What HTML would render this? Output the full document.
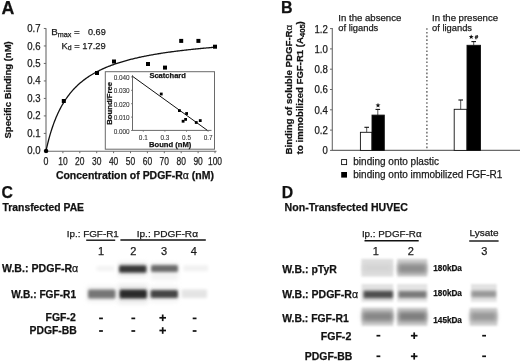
<!DOCTYPE html>
<html><head><meta charset="utf-8"><title>Figure</title>
<style>html,body{margin:0;padding:0;background:#fff;width:520px;height:362px;overflow:hidden}svg{display:block;filter:blur(0.35px)}text{font-family:"Liberation Sans",sans-serif;stroke:#1a1a1a;stroke-width:0.25px}</style>
</head><body>
<svg width="520" height="362" viewBox="0 0 520 362" font-family='"Liberation Sans", sans-serif'><defs><filter id="b10" x="-30%" y="-80%" width="160%" height="260%"><feGaussianBlur stdDeviation="1.0"/></filter><filter id="b14" x="-30%" y="-80%" width="160%" height="260%"><feGaussianBlur stdDeviation="1.4"/></filter><filter id="b15" x="-30%" y="-80%" width="160%" height="260%"><feGaussianBlur stdDeviation="1.5"/></filter><filter id="b16" x="-30%" y="-80%" width="160%" height="260%"><feGaussianBlur stdDeviation="1.6"/></filter><filter id="b18" x="-30%" y="-80%" width="160%" height="260%"><feGaussianBlur stdDeviation="1.8"/></filter><filter id="b20" x="-30%" y="-80%" width="160%" height="260%"><feGaussianBlur stdDeviation="2.0"/></filter></defs><rect width="520" height="362" fill="#fff"/><text x="1.6" y="13.5" font-size="17.8" font-weight="bold" fill="#111">A</text>
<line x1="46" y1="28.3" x2="46" y2="151.4" stroke="#6a6a6a" stroke-width="1.1"/>
<line x1="45.5" y1="151.2" x2="216.5" y2="151.2" stroke="#6a6a6a" stroke-width="1.1"/>
<line x1="43.8" y1="150.9" x2="46" y2="150.9" stroke="#6a6a6a" stroke-width="1"/>
<text x="40.5" y="154.15" font-size="10.5" text-anchor="end" textLength="13.3" lengthAdjust="spacingAndGlyphs" fill="#1a1a1a">0.0</text>
<line x1="43.8" y1="133.41" x2="46" y2="133.41" stroke="#6a6a6a" stroke-width="1"/>
<text x="40.5" y="136.71" font-size="10.5" text-anchor="end" textLength="13.3" lengthAdjust="spacingAndGlyphs" fill="#1a1a1a">0.1</text>
<line x1="43.8" y1="115.92" x2="46" y2="115.92" stroke="#6a6a6a" stroke-width="1"/>
<text x="40.5" y="119.27000000000001" font-size="10.5" text-anchor="end" textLength="13.3" lengthAdjust="spacingAndGlyphs" fill="#1a1a1a">0.2</text>
<line x1="43.8" y1="98.43" x2="46" y2="98.43" stroke="#6a6a6a" stroke-width="1"/>
<text x="40.5" y="101.83" font-size="10.5" text-anchor="end" textLength="13.3" lengthAdjust="spacingAndGlyphs" fill="#1a1a1a">0.3</text>
<line x1="43.8" y1="80.94" x2="46" y2="80.94" stroke="#6a6a6a" stroke-width="1"/>
<text x="40.5" y="84.39" font-size="10.5" text-anchor="end" textLength="13.3" lengthAdjust="spacingAndGlyphs" fill="#1a1a1a">0.4</text>
<line x1="43.8" y1="63.45" x2="46" y2="63.45" stroke="#6a6a6a" stroke-width="1"/>
<text x="40.5" y="66.95" font-size="10.5" text-anchor="end" textLength="13.3" lengthAdjust="spacingAndGlyphs" fill="#1a1a1a">0.5</text>
<line x1="43.8" y1="45.96000000000001" x2="46" y2="45.96000000000001" stroke="#6a6a6a" stroke-width="1"/>
<text x="40.5" y="49.50999999999999" font-size="10.5" text-anchor="end" textLength="13.3" lengthAdjust="spacingAndGlyphs" fill="#1a1a1a">0.6</text>
<line x1="43.8" y1="28.470000000000013" x2="46" y2="28.470000000000013" stroke="#6a6a6a" stroke-width="1"/>
<text x="40.5" y="32.06999999999999" font-size="10.5" text-anchor="end" textLength="13.3" lengthAdjust="spacingAndGlyphs" fill="#1a1a1a">0.7</text>
<line x1="46.0" y1="151.2" x2="46.0" y2="153.2" stroke="#6a6a6a" stroke-width="1"/>
<text x="46.0" y="164.5" font-size="10.3" text-anchor="middle" textLength="4.9" lengthAdjust="spacingAndGlyphs" fill="#1a1a1a">0</text>
<line x1="62.9" y1="151.2" x2="62.9" y2="153.2" stroke="#6a6a6a" stroke-width="1"/>
<text x="62.9" y="164.5" font-size="10.3" text-anchor="middle" textLength="9.4" lengthAdjust="spacingAndGlyphs" fill="#1a1a1a">10</text>
<line x1="79.8" y1="151.2" x2="79.8" y2="153.2" stroke="#6a6a6a" stroke-width="1"/>
<text x="79.8" y="164.5" font-size="10.3" text-anchor="middle" textLength="9.4" lengthAdjust="spacingAndGlyphs" fill="#1a1a1a">20</text>
<line x1="96.69999999999999" y1="151.2" x2="96.69999999999999" y2="153.2" stroke="#6a6a6a" stroke-width="1"/>
<text x="96.69999999999999" y="164.5" font-size="10.3" text-anchor="middle" textLength="9.4" lengthAdjust="spacingAndGlyphs" fill="#1a1a1a">30</text>
<line x1="113.6" y1="151.2" x2="113.6" y2="153.2" stroke="#6a6a6a" stroke-width="1"/>
<text x="113.6" y="164.5" font-size="10.3" text-anchor="middle" textLength="9.4" lengthAdjust="spacingAndGlyphs" fill="#1a1a1a">40</text>
<line x1="130.5" y1="151.2" x2="130.5" y2="153.2" stroke="#6a6a6a" stroke-width="1"/>
<text x="130.5" y="164.5" font-size="10.3" text-anchor="middle" textLength="9.4" lengthAdjust="spacingAndGlyphs" fill="#1a1a1a">50</text>
<line x1="147.39999999999998" y1="151.2" x2="147.39999999999998" y2="153.2" stroke="#6a6a6a" stroke-width="1"/>
<text x="147.39999999999998" y="164.5" font-size="10.3" text-anchor="middle" textLength="9.4" lengthAdjust="spacingAndGlyphs" fill="#1a1a1a">60</text>
<line x1="164.3" y1="151.2" x2="164.3" y2="153.2" stroke="#6a6a6a" stroke-width="1"/>
<text x="164.3" y="164.5" font-size="10.3" text-anchor="middle" textLength="9.4" lengthAdjust="spacingAndGlyphs" fill="#1a1a1a">70</text>
<line x1="181.2" y1="151.2" x2="181.2" y2="153.2" stroke="#6a6a6a" stroke-width="1"/>
<text x="181.2" y="164.5" font-size="10.3" text-anchor="middle" textLength="9.4" lengthAdjust="spacingAndGlyphs" fill="#1a1a1a">80</text>
<line x1="198.1" y1="151.2" x2="198.1" y2="153.2" stroke="#6a6a6a" stroke-width="1"/>
<text x="198.1" y="164.5" font-size="10.3" text-anchor="middle" textLength="9.4" lengthAdjust="spacingAndGlyphs" fill="#1a1a1a">90</text>
<line x1="215.0" y1="151.2" x2="215.0" y2="153.2" stroke="#6a6a6a" stroke-width="1"/>
<text x="215.0" y="164.5" font-size="10.3" text-anchor="middle" textLength="14.1" lengthAdjust="spacingAndGlyphs" fill="#1a1a1a">100</text>
<text x="55.9" y="178.6" font-size="10.4" font-weight="bold" textLength="158" lengthAdjust="spacingAndGlyphs" fill="#111">Concentration of PDGF-R<tspan font-weight="normal">α</tspan> (nM)</text>
<text x="11.4" y="138.5" font-size="9.6" font-weight="bold" textLength="97.3" lengthAdjust="spacingAndGlyphs" transform="rotate(-90 11.4 138.5)" fill="#111">Specific Binding (nM)</text>
<text x="51.2" y="34.9" font-size="9.8" fill="#1a1a1a">B<tspan font-size="7.2" dy="1.6">max</tspan><tspan dy="-1.6"> =</tspan></text>
<text x="105.8" y="34.9" font-size="9.8" text-anchor="end" textLength="17.8" lengthAdjust="spacingAndGlyphs" fill="#1a1a1a">0.69</text>
<text x="61.6" y="48.7" font-size="9.8" textLength="44.2" lengthAdjust="spacingAndGlyphs" fill="#1a1a1a">K<tspan font-size="7.2" dy="1.6">d</tspan><tspan dy="-1.6"> = 17.29</tspan></text>
<polyline points="46.00,150.90 46.84,147.14 47.69,143.61 48.53,140.28 49.38,137.15 50.23,134.19 51.07,131.39 51.91,128.75 52.76,126.23 53.60,123.85 54.45,121.58 55.30,119.42 56.14,117.36 56.98,115.39 57.83,113.52 58.67,111.72 59.52,110.00 60.37,108.35 61.21,106.77 62.05,105.26 62.90,103.80 63.75,102.40 64.59,101.05 65.44,99.76 66.28,98.51 67.12,97.30 67.97,96.14 68.81,95.02 69.66,93.93 70.50,92.88 71.35,91.87 72.19,90.89 73.04,89.94 73.88,89.02 74.73,88.13 75.58,87.27 76.42,86.43 77.27,85.61 78.11,84.82 78.95,84.06 79.80,83.31 80.64,82.59 81.49,81.88 82.34,81.20 83.18,80.53 84.03,79.88 84.87,79.25 85.72,78.63 86.56,78.03 87.41,77.44 88.25,76.87 89.09,76.31 89.94,75.77 90.78,75.24 91.63,74.72 92.47,74.21 93.32,73.72 94.16,73.23 95.01,72.76 95.85,72.30 96.70,71.85 97.55,71.41 98.39,70.97 99.23,70.55 100.08,70.14 100.92,69.73 101.77,69.33 102.61,68.94 103.46,68.56 104.31,68.19 105.15,67.82 106.00,67.46 106.84,67.11 107.69,66.77 108.53,66.43 109.38,66.09 110.22,65.77 111.06,65.45 111.91,65.13 112.75,64.83 113.60,64.52 114.44,64.23 115.29,63.93 116.13,63.65 116.98,63.36 117.83,63.09 118.67,62.82 119.52,62.55 120.36,62.28 121.20,62.03 122.05,61.77 122.89,61.52 123.74,61.27 124.58,61.03 125.43,60.79 126.27,60.56 127.12,60.33 127.97,60.10 128.81,59.88 129.66,59.66 130.50,59.44 131.34,59.22 132.19,59.01 133.03,58.81 133.88,58.60 134.72,58.40 135.57,58.20 136.41,58.01 137.26,57.81 138.11,57.63 138.95,57.44 139.80,57.25 140.64,57.07 141.49,56.89 142.33,56.71 143.18,56.54 144.02,56.37 144.87,56.20 145.71,56.03 146.56,55.87 147.40,55.70 148.25,55.54 149.09,55.38 149.94,55.23 150.78,55.07 151.62,54.92 152.47,54.77 153.31,54.62 154.16,54.47 155.00,54.33 155.85,54.18 156.69,54.04 157.54,53.90 158.38,53.76 159.23,53.63 160.07,53.49 160.92,53.36 161.76,53.23 162.61,53.10 163.45,52.97 164.30,52.84 165.14,52.72 165.99,52.59 166.83,52.47 167.68,52.35 168.52,52.23 169.37,52.11 170.21,51.99 171.06,51.88 171.91,51.76 172.75,51.65 173.59,51.54 174.44,51.43 175.28,51.32 176.13,51.21 176.97,51.10 177.82,50.99 178.66,50.89 179.51,50.78 180.35,50.68 181.20,50.58 182.04,50.48 182.89,50.38 183.73,50.28 184.58,50.18 185.42,50.09 186.27,49.99 187.12,49.90 187.96,49.80 188.81,49.71 189.65,49.62 190.50,49.53 191.34,49.44 192.19,49.35 193.03,49.26 193.88,49.17 194.72,49.09 195.56,49.00 196.41,48.92 197.25,48.83 198.10,48.75 198.94,48.67 199.79,48.58 200.63,48.50 201.48,48.42 202.32,48.34 203.17,48.26 204.01,48.19 204.86,48.11 205.70,48.03 206.55,47.96 207.39,47.88 208.24,47.81 209.09,47.73 209.93,47.66 210.78,47.59 211.62,47.51 212.47,47.44 213.31,47.37 214.16,47.30 215.00,47.23" fill="none" stroke="#111" stroke-width="1.3"/>
<rect x="105.3" y="71.7" width="109.2" height="77.5" fill="#fff" stroke="#6a6a6a" stroke-width="1"/>
<rect x="61.8" y="99" width="4" height="4" fill="#000" stroke="none" stroke-width="1"/>
<rect x="95" y="71" width="4" height="4" fill="#000" stroke="none" stroke-width="1"/>
<rect x="112" y="59.5" width="4" height="4" fill="#000" stroke="none" stroke-width="1"/>
<rect x="146" y="62" width="4" height="4" fill="#000" stroke="none" stroke-width="1"/>
<rect x="163" y="65.6" width="4" height="4" fill="#000" stroke="none" stroke-width="1"/>
<rect x="179.2" y="38.9" width="4" height="4" fill="#000" stroke="none" stroke-width="1"/>
<rect x="196.4" y="38.9" width="4" height="4" fill="#000" stroke="none" stroke-width="1"/>
<rect x="213" y="44.7" width="4" height="4" fill="#000" stroke="none" stroke-width="1"/>
<circle cx="46.1" cy="150.9" r="2.2" fill="#000"/>
<line x1="132.5" y1="75.2" x2="132.5" y2="130.6" stroke="#6a6a6a" stroke-width="1"/>
<line x1="132.2" y1="130.4" x2="211.5" y2="130.4" stroke="#6a6a6a" stroke-width="1"/>
<line x1="131" y1="130.5" x2="132.5" y2="130.5" stroke="#6a6a6a" stroke-width="0.8"/>
<text x="129.7" y="133.7" font-size="7.0" text-anchor="end" textLength="16" lengthAdjust="spacingAndGlyphs" fill="#3a3a3a" style="stroke-width:0.1px">0.000</text>
<line x1="131" y1="117.1" x2="132.5" y2="117.1" stroke="#6a6a6a" stroke-width="0.8"/>
<text x="129.7" y="120.17999999999999" font-size="7.0" text-anchor="end" textLength="16" lengthAdjust="spacingAndGlyphs" fill="#3a3a3a" style="stroke-width:0.1px">0.010</text>
<line x1="131" y1="103.7" x2="132.5" y2="103.7" stroke="#6a6a6a" stroke-width="0.8"/>
<text x="129.7" y="106.66" font-size="7.0" text-anchor="end" textLength="16" lengthAdjust="spacingAndGlyphs" fill="#3a3a3a" style="stroke-width:0.1px">0.020</text>
<line x1="131" y1="90.3" x2="132.5" y2="90.3" stroke="#6a6a6a" stroke-width="0.8"/>
<text x="129.7" y="93.13999999999999" font-size="7.0" text-anchor="end" textLength="16" lengthAdjust="spacingAndGlyphs" fill="#3a3a3a" style="stroke-width:0.1px">0.030</text>
<line x1="131" y1="76.9" x2="132.5" y2="76.9" stroke="#6a6a6a" stroke-width="0.8"/>
<text x="129.7" y="79.61999999999999" font-size="7.0" text-anchor="end" textLength="16" lengthAdjust="spacingAndGlyphs" fill="#3a3a3a" style="stroke-width:0.1px">0.040</text>
<line x1="143.3" y1="130.4" x2="143.3" y2="131.8" stroke="#6a6a6a" stroke-width="0.8"/>
<text x="143.3" y="140.3" font-size="7.0" text-anchor="middle" textLength="8.9" lengthAdjust="spacingAndGlyphs" fill="#3a3a3a" style="stroke-width:0.1px">0.1</text>
<line x1="164.9" y1="130.4" x2="164.9" y2="131.8" stroke="#6a6a6a" stroke-width="0.8"/>
<text x="164.9" y="140.3" font-size="7.0" text-anchor="middle" textLength="8.9" lengthAdjust="spacingAndGlyphs" fill="#3a3a3a" style="stroke-width:0.1px">0.3</text>
<line x1="186.5" y1="130.4" x2="186.5" y2="131.8" stroke="#6a6a6a" stroke-width="0.8"/>
<text x="186.5" y="140.3" font-size="7.0" text-anchor="middle" textLength="8.9" lengthAdjust="spacingAndGlyphs" fill="#3a3a3a" style="stroke-width:0.1px">0.5</text>
<line x1="208.1" y1="130.4" x2="208.1" y2="131.8" stroke="#6a6a6a" stroke-width="0.8"/>
<text x="208.1" y="140.3" font-size="7.0" text-anchor="middle" textLength="8.9" lengthAdjust="spacingAndGlyphs" fill="#3a3a3a" style="stroke-width:0.1px">0.7</text>
<text x="149.4" y="77.8" font-size="7.3" font-weight="bold" textLength="36.5" lengthAdjust="spacingAndGlyphs" fill="#111">Scatchard</text>
<text x="149" y="147" font-size="7.3" font-weight="bold" textLength="42.3" lengthAdjust="spacingAndGlyphs" fill="#111">Bound (nM)</text>
<text x="112.3" y="124.8" font-size="7.5" font-weight="bold" textLength="42.8" lengthAdjust="spacingAndGlyphs" transform="rotate(-90 112.3 124.8)" fill="#111">Bound/Free</text>
<line x1="132.5" y1="76.3" x2="207.3" y2="130.3" stroke="#111" stroke-width="1"/>
<rect x="159.85" y="92.6" width="2.8" height="2.8" fill="#000" stroke="none" stroke-width="1"/>
<rect x="178.0" y="109.19999999999999" width="2.8" height="2.8" fill="#000" stroke="none" stroke-width="1"/>
<rect x="185.2" y="112.1" width="2.8" height="2.8" fill="#000" stroke="none" stroke-width="1"/>
<rect x="184.2" y="118.0" width="2.8" height="2.8" fill="#000" stroke="none" stroke-width="1"/>
<rect x="181.7" y="119.85" width="2.8" height="2.8" fill="#000" stroke="none" stroke-width="1"/>
<rect x="194.85" y="121.1" width="2.8" height="2.8" fill="#000" stroke="none" stroke-width="1"/>
<rect x="198.85" y="119.19999999999999" width="2.8" height="2.8" fill="#000" stroke="none" stroke-width="1"/>
<text x="280.9" y="12.9" font-size="16" font-weight="bold" fill="#111">B</text>
<line x1="332.3" y1="28.1" x2="332.3" y2="150.8" stroke="#6a6a6a" stroke-width="1.1"/>
<line x1="331.8" y1="150.4" x2="520" y2="150.4" stroke="#6a6a6a" stroke-width="1.1"/>
<line x1="330" y1="150.4" x2="332.3" y2="150.4" stroke="#6a6a6a" stroke-width="1"/>
<text x="327.9" y="154.3" font-size="10.4" text-anchor="end" textLength="5.3" lengthAdjust="spacingAndGlyphs" fill="#1a1a1a">0</text>
<line x1="330" y1="130.1" x2="332.3" y2="130.1" stroke="#6a6a6a" stroke-width="1"/>
<text x="327.9" y="134.0" font-size="10.4" text-anchor="end" textLength="13.4" lengthAdjust="spacingAndGlyphs" fill="#1a1a1a">0.2</text>
<line x1="330" y1="109.80000000000001" x2="332.3" y2="109.80000000000001" stroke="#6a6a6a" stroke-width="1"/>
<text x="327.9" y="113.70000000000002" font-size="10.4" text-anchor="end" textLength="13.4" lengthAdjust="spacingAndGlyphs" fill="#1a1a1a">0.4</text>
<line x1="330" y1="89.5" x2="332.3" y2="89.5" stroke="#6a6a6a" stroke-width="1"/>
<text x="327.9" y="93.4" font-size="10.4" text-anchor="end" textLength="13.4" lengthAdjust="spacingAndGlyphs" fill="#1a1a1a">0.6</text>
<line x1="330" y1="69.2" x2="332.3" y2="69.2" stroke="#6a6a6a" stroke-width="1"/>
<text x="327.9" y="73.10000000000001" font-size="10.4" text-anchor="end" textLength="13.4" lengthAdjust="spacingAndGlyphs" fill="#1a1a1a">0.8</text>
<line x1="330" y1="48.900000000000006" x2="332.3" y2="48.900000000000006" stroke="#6a6a6a" stroke-width="1"/>
<text x="327.9" y="52.800000000000004" font-size="10.4" text-anchor="end" textLength="13.4" lengthAdjust="spacingAndGlyphs" fill="#1a1a1a">1.0</text>
<line x1="330" y1="28.599999999999994" x2="332.3" y2="28.599999999999994" stroke="#6a6a6a" stroke-width="1"/>
<text x="327.9" y="32.49999999999999" font-size="10.4" text-anchor="end" textLength="13.4" lengthAdjust="spacingAndGlyphs" fill="#1a1a1a">1.2</text>
<line x1="426.9" y1="28.2" x2="426.9" y2="150" stroke="#555" stroke-width="1.3" stroke-dasharray="1.6 2.1"/>
<line x1="366.7" y1="127.3" x2="366.7" y2="132.3" stroke="#444" stroke-width="0.9"/>
<line x1="364.4" y1="127.3" x2="369.0" y2="127.3" stroke="#111" stroke-width="1.1"/>
<rect x="360.4" y="132.3" width="11.600000000000023" height="18.099999999999994" fill="#fff" stroke="#111" stroke-width="0.9"/>
<line x1="377.8" y1="109.4" x2="377.8" y2="115.1" stroke="#444" stroke-width="0.9"/>
<line x1="375.5" y1="109.4" x2="380.1" y2="109.4" stroke="#111" stroke-width="1.1"/>
<rect x="372" y="115.1" width="12.300000000000011" height="35.30000000000001" fill="#000" stroke="#111" stroke-width="0.9"/>
<line x1="460.7" y1="100" x2="460.7" y2="109.3" stroke="#444" stroke-width="0.9"/>
<line x1="458.4" y1="100" x2="463.0" y2="100" stroke="#111" stroke-width="1.1"/>
<rect x="454.2" y="109.3" width="12.800000000000011" height="41.10000000000001" fill="#fff" stroke="#111" stroke-width="0.9"/>
<line x1="473.7" y1="41.6" x2="473.7" y2="45.3" stroke="#444" stroke-width="0.9"/>
<line x1="471.4" y1="41.6" x2="476.0" y2="41.6" stroke="#111" stroke-width="1.1"/>
<rect x="467" y="45.3" width="13.5" height="105.10000000000001" fill="#000" stroke="#111" stroke-width="0.9"/>
<polygon points="378.00,102.80 378.64,104.52 380.47,104.60 379.04,105.74 379.53,107.50 378.00,106.49 376.47,107.50 376.96,105.74 375.53,104.60 377.36,104.52" fill="#111"/>
<polygon points="471.20,34.40 471.84,36.12 473.67,36.20 472.24,37.34 472.73,39.10 471.20,38.09 469.67,39.10 470.16,37.34 468.73,36.20 470.56,36.12" fill="#111"/>
<text x="476.4" y="38.9" font-size="6.2" font-weight="bold" text-anchor="middle" fill="#111">#</text>
<text x="338.3" y="21.4" font-size="9.5" textLength="63" lengthAdjust="spacingAndGlyphs" fill="#1a1a1a">In the absence</text>
<text x="338.3" y="30.9" font-size="9.5" textLength="40" lengthAdjust="spacingAndGlyphs" fill="#1a1a1a">of ligands</text>
<text x="432" y="21.4" font-size="9.5" textLength="66" lengthAdjust="spacingAndGlyphs" fill="#1a1a1a">In the presence</text>
<text x="432" y="30.9" font-size="9.5" textLength="40" lengthAdjust="spacingAndGlyphs" fill="#1a1a1a">of ligands</text>
<text x="291.5" y="154.5" font-size="9.6" font-weight="bold" textLength="129.7" lengthAdjust="spacingAndGlyphs" transform="rotate(-90 291.5 154.5)" fill="#111">Binding of soluble PDGF-R<tspan font-weight="normal">α</tspan></text>
<text x="303.0" y="154.2" font-size="9.6" font-weight="bold" textLength="133" lengthAdjust="spacingAndGlyphs" transform="rotate(-90 303.0 154.2)" fill="#111">to immobilized FGF-R1 (A<tspan font-size="7.6" dy="1.6">405</tspan><tspan dy="-1.6">)</tspan></text>
<rect x="341.6" y="159.6" width="5" height="5" fill="#fff" stroke="#111" stroke-width="0.9"/>
<rect x="341.2" y="172" width="5.8" height="5.6" fill="#000" stroke="none" stroke-width="1"/>
<text x="353.3" y="164.8" font-size="10" fill="#1a1a1a">binding onto plastic</text>
<text x="353.3" y="177.9" font-size="10" textLength="149" lengthAdjust="spacingAndGlyphs" fill="#1a1a1a">binding onto immobilized FGF-R1</text>
<text x="1.6" y="197.8" font-size="15.8" font-weight="bold" fill="#111">C</text>
<text x="2.6" y="211" font-size="10" font-weight="bold" textLength="81.4" lengthAdjust="spacingAndGlyphs" fill="#111">Transfected PAE</text>
<text x="66.7" y="237.4" font-size="9.4" textLength="52.1" lengthAdjust="spacingAndGlyphs" fill="#1a1a1a">Ip.: FGF-R1</text>
<line x1="86.2" y1="240.2" x2="115.2" y2="240.2" stroke="#111" stroke-width="1.4"/>
<text x="136.7" y="236.6" font-size="9.4" textLength="61.3" lengthAdjust="spacingAndGlyphs" fill="#1a1a1a">Ip.: PDGF-Rα</text>
<line x1="120.4" y1="240" x2="205.8" y2="240" stroke="#111" stroke-width="1.4"/>
<text x="101" y="254.6" font-size="11" text-anchor="middle" fill="#1a1a1a">1</text>
<text x="133.3" y="254.6" font-size="11" text-anchor="middle" fill="#1a1a1a">2</text>
<text x="164" y="254.6" font-size="11" text-anchor="middle" fill="#1a1a1a">3</text>
<text x="193.8" y="254.6" font-size="11" text-anchor="middle" fill="#1a1a1a">4</text>
<text x="78.2" y="271.5" font-size="10.2" font-weight="bold" text-anchor="end" textLength="76.2" lengthAdjust="spacingAndGlyphs" fill="#111">W.B.: PDGF-R<tspan font-weight="normal">α</tspan></text>
<text x="76.1" y="298.1" font-size="10.2" font-weight="bold" text-anchor="end" textLength="64.9" lengthAdjust="spacingAndGlyphs" fill="#111">W.B.: FGF-R1</text>
<text x="75.7" y="320.9" font-size="10.2" font-weight="bold" text-anchor="end" textLength="30.1" lengthAdjust="spacingAndGlyphs" fill="#111">FGF-2</text>
<text x="76.7" y="333.5" font-size="10.2" font-weight="bold" text-anchor="end" textLength="47.2" lengthAdjust="spacingAndGlyphs" fill="#111">PDGF-BB</text>
<rect x="99.1" y="317.54999999999995" width="3.8" height="1.7" fill="#111" stroke="none" stroke-width="1"/>
<rect x="99.1" y="330.15" width="3.8" height="1.7" fill="#111" stroke="none" stroke-width="1"/>
<rect x="131.4" y="317.54999999999995" width="3.8" height="1.7" fill="#111" stroke="none" stroke-width="1"/>
<rect x="131.4" y="330.15" width="3.8" height="1.7" fill="#111" stroke="none" stroke-width="1"/>
<rect x="159.39999999999998" y="316.95" width="6.6" height="1.7" fill="#111" stroke="none" stroke-width="1"/>
<rect x="161.85" y="314.5" width="1.7" height="6.6" fill="#111" stroke="none" stroke-width="1"/>
<rect x="159.39999999999998" y="329.65" width="6.6" height="1.7" fill="#111" stroke="none" stroke-width="1"/>
<rect x="161.85" y="327.2" width="1.7" height="6.6" fill="#111" stroke="none" stroke-width="1"/>
<rect x="192.7" y="317.54999999999995" width="3.8" height="1.7" fill="#111" stroke="none" stroke-width="1"/>
<rect x="192.7" y="330.15" width="3.8" height="1.7" fill="#111" stroke="none" stroke-width="1"/>
<rect x="118" y="284" width="29.5" height="20" fill="#ececec" filter="url(#b20)"/>
<rect x="150" y="286" width="28" height="16" fill="#f2f2f2" filter="url(#b20)"/>
<rect x="87" y="286" width="28.5" height="16" fill="#f2f2f2" filter="url(#b20)"/>
<rect x="118.5" y="262" width="28.0" height="15" fill="#eeeeee" filter="url(#b20)"/>
<rect x="151" y="263" width="27" height="17" fill="#f2f2f2" filter="url(#b20)"/>
<rect x="96.5" y="266.0" width="17.5" height="5" rx="1" fill="#f3f3f3" opacity="1.0" filter="url(#b14)"/>
<rect x="119" y="265.25" width="27.5" height="7.5" rx="1.5" fill="#383838" opacity="1.0" filter="url(#b14)"/>
<rect x="151" y="265.1" width="27" height="7" rx="1.5" fill="#6c6c6c" opacity="1.0" filter="url(#b14)"/>
<rect x="183.5" y="265.2" width="24.5" height="6" rx="1" fill="#f1f1f1" opacity="1.0" filter="url(#b14)"/>
<rect x="88" y="289.5" width="27.5" height="9" rx="1.5" fill="#767676" opacity="1.0" filter="url(#b18)"/>
<rect x="119.5" y="289.6" width="27.5" height="9" rx="1.5" fill="#2c2c2c" opacity="1.0" filter="url(#b15)"/>
<rect x="150.5" y="290.0" width="27.5" height="8" rx="1.5" fill="#444444" opacity="1.0" filter="url(#b15)"/>
<rect x="181.5" y="289.55" width="25.5" height="8.5" rx="1" fill="#e4e4e4" opacity="1.0" filter="url(#b15)"/>
<text x="281.8" y="197.6" font-size="15.8" font-weight="bold" fill="#111">D</text>
<text x="284.6" y="210.8" font-size="10" font-weight="bold" textLength="123.3" lengthAdjust="spacingAndGlyphs" fill="#111">Non-Transfected HUVEC</text>
<text x="361.9" y="237.3" font-size="9.4" textLength="59.7" lengthAdjust="spacingAndGlyphs" fill="#1a1a1a">Ip.: PDGF-Rα</text>
<line x1="364.5" y1="240.8" x2="418.7" y2="240.8" stroke="#111" stroke-width="1.4"/>
<text x="469.5" y="235.6" font-size="9.4" textLength="29.1" lengthAdjust="spacingAndGlyphs" fill="#1a1a1a">Lysate</text>
<line x1="469.2" y1="241" x2="498.6" y2="241" stroke="#111" stroke-width="1.4"/>
<text x="375.8" y="254.6" font-size="11" text-anchor="middle" fill="#1a1a1a">1</text>
<text x="410.7" y="254.6" font-size="11" text-anchor="middle" fill="#1a1a1a">2</text>
<text x="484.2" y="254.6" font-size="11" text-anchor="middle" fill="#1a1a1a">3</text>
<text x="282.3" y="272.6" font-size="10.2" font-weight="bold" textLength="54.5" lengthAdjust="spacingAndGlyphs" fill="#111">W.B.: pTyR</text>
<text x="282.3" y="297.5" font-size="10.2" font-weight="bold" textLength="75.7" lengthAdjust="spacingAndGlyphs" fill="#111">W.B.: PDGF-R<tspan font-weight="normal">α</tspan></text>
<text x="282.3" y="322" font-size="10.2" font-weight="bold" textLength="66.4" lengthAdjust="spacingAndGlyphs" fill="#111">W.B.: FGF-R1</text>
<text x="433.3" y="271.1" font-size="8.2" font-weight="bold" textLength="28.6" lengthAdjust="spacingAndGlyphs" fill="#111">180kDa</text>
<text x="433.3" y="296.3" font-size="8.2" font-weight="bold" textLength="28.6" lengthAdjust="spacingAndGlyphs" fill="#111">180kDa</text>
<text x="433.3" y="322.5" font-size="8.2" font-weight="bold" textLength="28.6" lengthAdjust="spacingAndGlyphs" fill="#111">145kDa</text>
<text x="351.3" y="339.8" font-size="10.2" font-weight="bold" text-anchor="end" textLength="30.6" lengthAdjust="spacingAndGlyphs" fill="#111">FGF-2</text>
<text x="352.4" y="359.9" font-size="10.2" font-weight="bold" text-anchor="end" textLength="47.6" lengthAdjust="spacingAndGlyphs" fill="#111">PDGF-BB</text>
<rect x="376.5" y="334.84999999999997" width="3.8" height="1.7" fill="#111" stroke="none" stroke-width="1"/>
<rect x="376.5" y="355.45" width="3.8" height="1.7" fill="#111" stroke="none" stroke-width="1"/>
<rect x="410.9" y="334.84999999999997" width="6.6" height="1.7" fill="#111" stroke="none" stroke-width="1"/>
<rect x="413.34999999999997" y="332.4" width="1.7" height="6.6" fill="#111" stroke="none" stroke-width="1"/>
<rect x="410.9" y="355.45" width="6.6" height="1.7" fill="#111" stroke="none" stroke-width="1"/>
<rect x="413.34999999999997" y="353.0" width="1.7" height="6.6" fill="#111" stroke="none" stroke-width="1"/>
<rect x="482.20000000000005" y="334.84999999999997" width="3.8" height="1.7" fill="#111" stroke="none" stroke-width="1"/>
<rect x="482.20000000000005" y="355.45" width="3.8" height="1.7" fill="#111" stroke="none" stroke-width="1"/>
<rect x="361.4" y="258.9" width="31.80000000000001" height="17.700000000000045" fill="#dedede" filter="url(#b10)"/>
<rect x="363" y="264.0" width="29" height="8" rx="1" fill="#d4d4d4" opacity="1.0" filter="url(#b20)"/>
<rect x="397.2" y="258.9" width="30.0" height="17.700000000000045" fill="#d2d2d2" filter="url(#b10)"/>
<rect x="398" y="263.6" width="28.5" height="10" rx="1" fill="#8e8e8e" opacity="1.0" filter="url(#b20)"/>
<rect x="361.6" y="284.0" width="31.599999999999966" height="18.0" fill="#e2e2e2" filter="url(#b10)"/>
<rect x="397.2" y="284.0" width="30.0" height="18.0" fill="#e4e4e4" filter="url(#b10)"/>
<rect x="363.5" y="290.65" width="29.5" height="7.5" rx="1" fill="#505050" opacity="1.0" filter="url(#b15)"/>
<rect x="398.5" y="290.9" width="28.0" height="7" rx="1" fill="#7a7a7a" opacity="1.0" filter="url(#b15)"/>
<rect x="361.6" y="307.6" width="31.599999999999966" height="18.19999999999999" fill="#d0d0d0" filter="url(#b10)"/>
<rect x="397.2" y="307.6" width="30.0" height="18.19999999999999" fill="#cecece" filter="url(#b10)"/>
<rect x="362.5" y="311.6" width="30.5" height="10" rx="1" fill="#878787" opacity="1.0" filter="url(#b20)"/>
<rect x="398.5" y="311.6" width="28.0" height="10" rx="1" fill="#7f7f7f" opacity="1.0" filter="url(#b20)"/>
<rect x="471.0" y="284" width="25.600000000000023" height="17.80000000000001" fill="#e2e2e2" filter="url(#b10)"/>
<rect x="471.5" y="290.75" width="24.5" height="6.5" rx="1" fill="#989898" opacity="1.0" filter="url(#b16)"/>
<rect x="469.7" y="307.8" width="27.600000000000023" height="18.0" fill="#d0d0d0" filter="url(#b10)"/>
<rect x="470.5" y="311.65" width="26.0" height="9.5" rx="1" fill="#999999" opacity="1.0" filter="url(#b20)"/></svg>
</body></html>
